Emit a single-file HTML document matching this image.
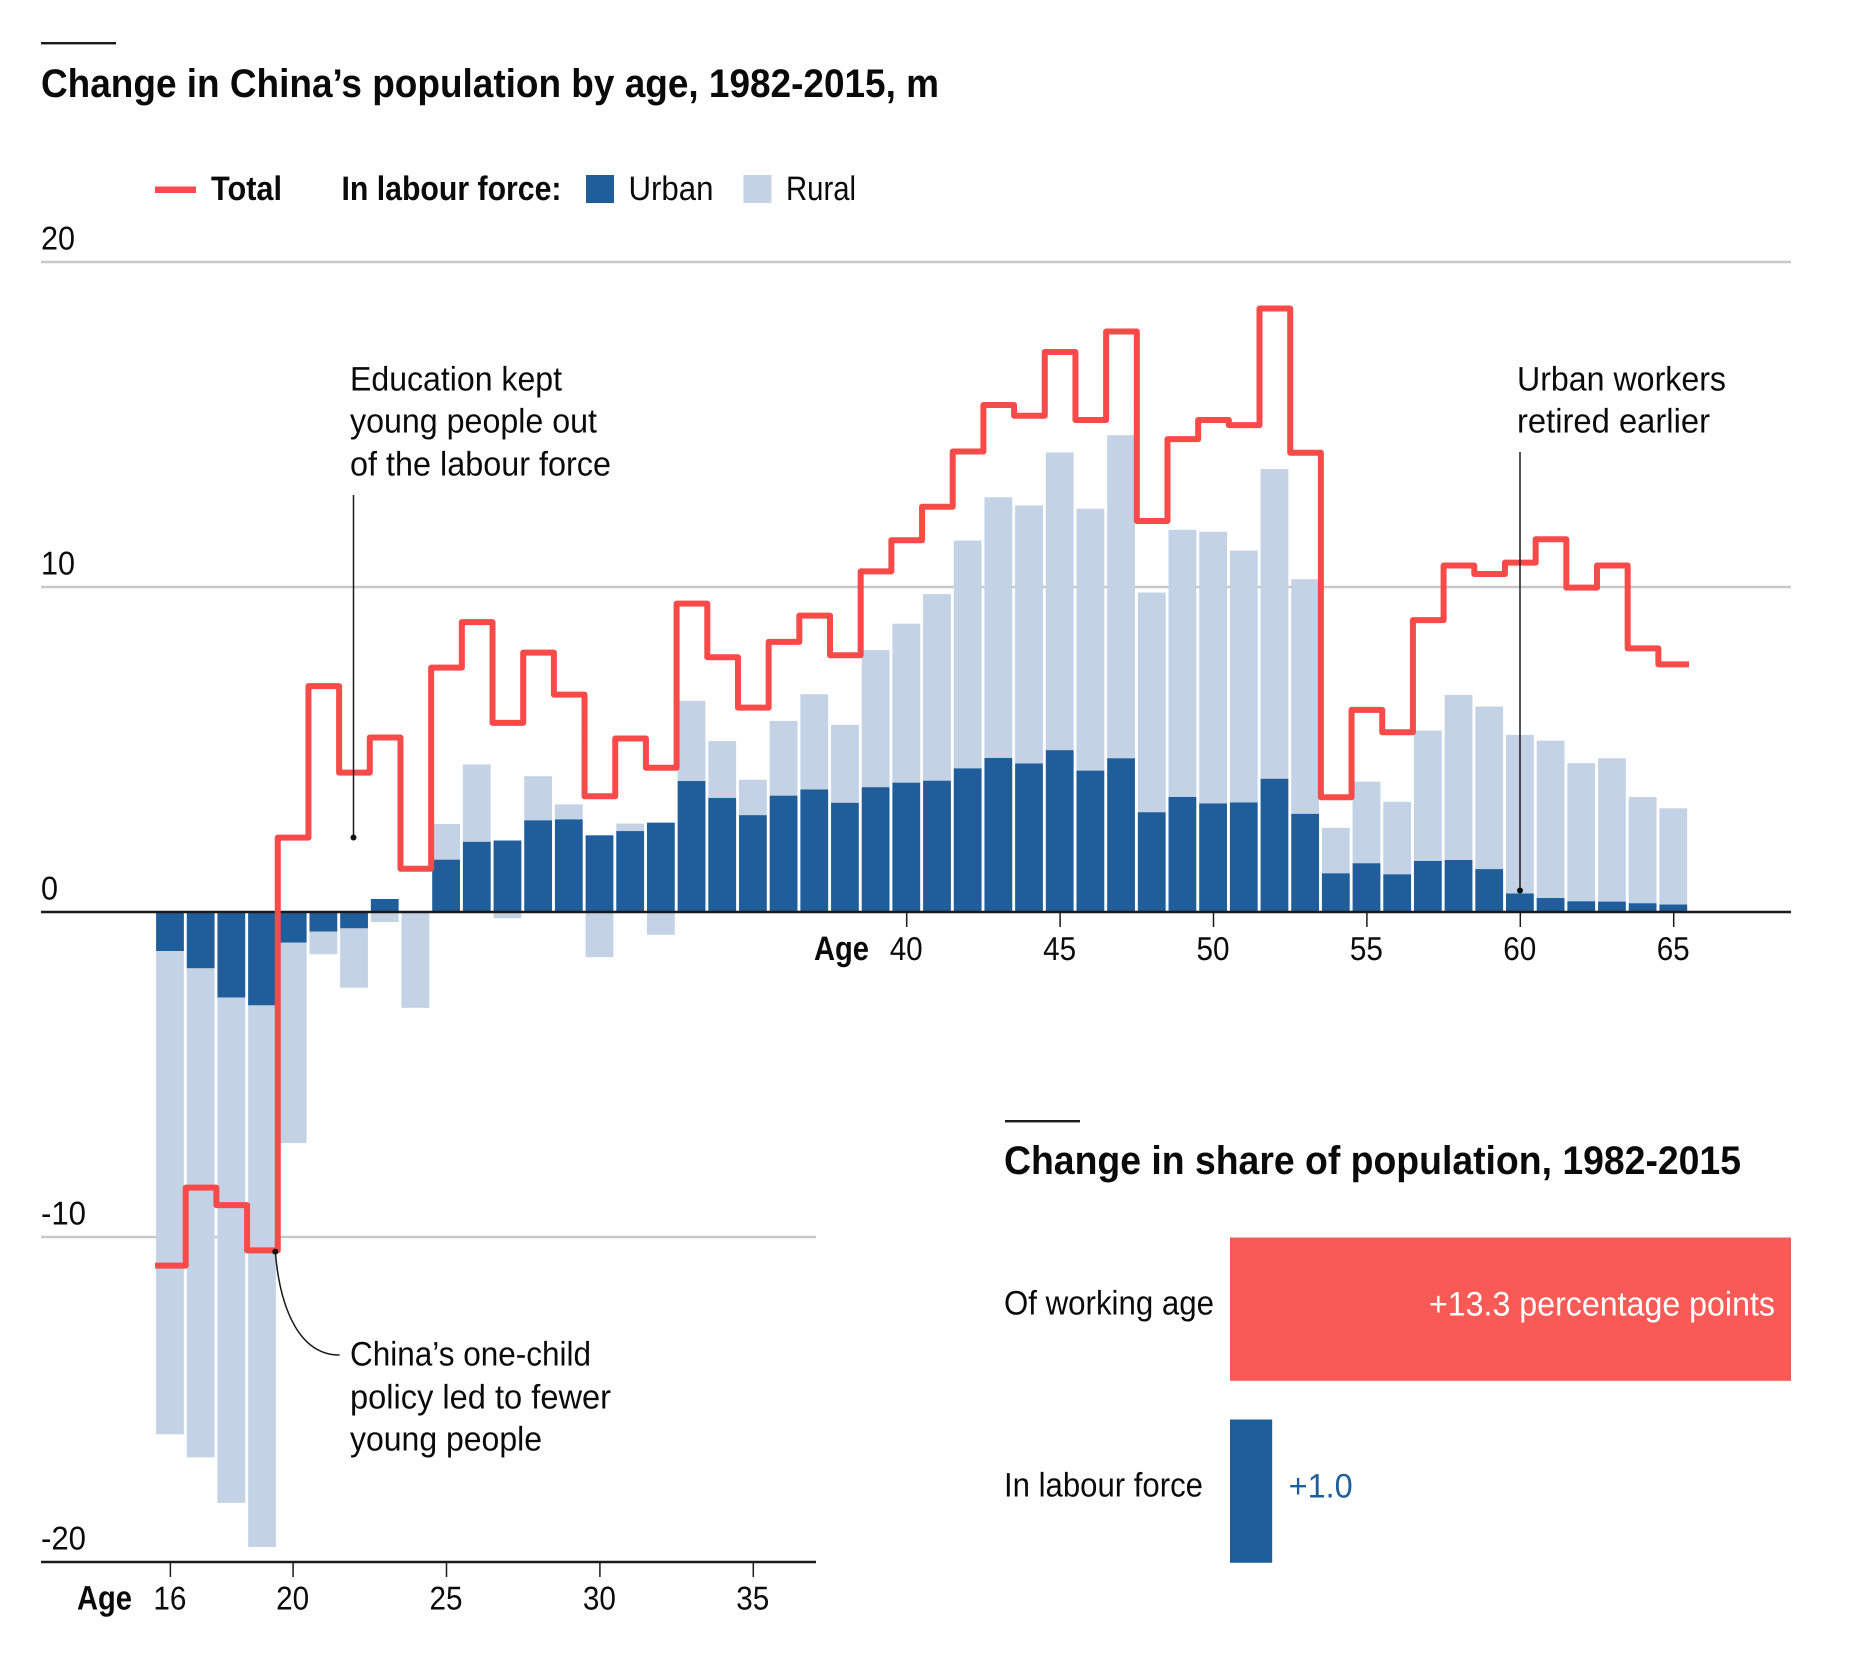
<!DOCTYPE html>
<html lang="en">
<head>
<meta charset="utf-8">
<title>Change in China's population by age, 1982-2015</title>
<style>
html,body{margin:0;padding:0;background:#fff;}
svg{display:block;}
text{font-family:"Liberation Sans",Arial,sans-serif;fill:#0a0a0a;text-rendering:geometricPrecision;}
.title{font-size:40px;font-weight:700;}
.body{font-size:34px;}
.bold{font-size:34px;font-weight:700;}
.tick{font-size:33px;}
</style>
</head>
<body>
<svg id="chart" xmlns="http://www.w3.org/2000/svg" width="1852" height="1672" viewBox="0 0 1852 1672">
  <rect x="0" y="0" width="1852" height="1672" fill="#ffffff"/>
  <rect x="41" y="42" width="75" height="2.4" fill="#1a1a1a"/>
  <text class="title" x="41" y="97" textLength="898" lengthAdjust="spacingAndGlyphs">Change in China’s population by age, 1982-2015, m</text>

  <g>
    <rect x="155" y="186.5" width="41" height="6.5" fill="#f94a4f"/>
    <text class="bold" x="211" y="200" textLength="71" lengthAdjust="spacingAndGlyphs">Total</text>
    <text class="bold" x="341.5" y="200" textLength="220" lengthAdjust="spacingAndGlyphs">In labour force:</text>
    <rect x="586" y="175" width="28" height="28" fill="#205e9b"/>
    <text class="body" x="628.5" y="200" textLength="85" lengthAdjust="spacingAndGlyphs">Urban</text>
    <rect x="743.5" y="175" width="28" height="28" fill="#c3d2e5"/>
    <text class="body" x="786" y="200" textLength="70" lengthAdjust="spacingAndGlyphs">Rural</text>
  </g>

  <g id="grid"></g>
  <g id="ruralBars"></g>
  <g id="urbanBars"></g>
  <g id="axes"></g>
  <path id="totalLine" fill="none" stroke="#f94a4a" stroke-width="6" stroke-linejoin="round"/>

  <g>
    <text class="body" x="350" y="390.5" textLength="212" lengthAdjust="spacingAndGlyphs">Education kept</text>
    <text class="body" x="350" y="432.5" textLength="247" lengthAdjust="spacingAndGlyphs">young people out</text>
    <text class="body" x="350" y="475.5" textLength="261" lengthAdjust="spacingAndGlyphs">of the labour force</text>
    <line x1="353.5" y1="495" x2="353.5" y2="837" stroke="#1a1a1a" stroke-width="1.5"/>
    <circle cx="353.5" cy="837.5" r="3" fill="#111"/>
  </g>
  <g>
    <text class="body" x="1517" y="390.5" textLength="209" lengthAdjust="spacingAndGlyphs">Urban workers</text>
    <text class="body" x="1517" y="432.5" textLength="193" lengthAdjust="spacingAndGlyphs">retired earlier</text>
    <line x1="1520" y1="452" x2="1520" y2="890" stroke="#1a1a1a" stroke-width="1.5"/>
    <circle cx="1520" cy="890.5" r="3" fill="#111"/>
  </g>
  <g>
    <text class="body" x="350" y="1365.5" textLength="241" lengthAdjust="spacingAndGlyphs">China’s one-child</text>
    <text class="body" x="350" y="1408.5" textLength="261" lengthAdjust="spacingAndGlyphs">policy led to fewer</text>
    <text class="body" x="350" y="1450.5" textLength="192" lengthAdjust="spacingAndGlyphs">young people</text>
    <path d="M275.3 1251.6C280 1310 300 1355 339.6 1355" fill="none" stroke="#1a1a1a" stroke-width="1.5"/>
    <circle cx="275.3" cy="1251.6" r="3" fill="#111"/>
  </g>

  <rect x="1005" y="1120" width="75" height="2.4" fill="#1a1a1a"/>
  <text class="title" x="1004" y="1174" textLength="737" lengthAdjust="spacingAndGlyphs">Change in share of population, 1982-2015</text>
  <g id="shareChart"></g>
</svg>

<script>
const ages = [16,17,18,19,20,21,22,23,24,25,26,27,28,29,30,31,32,33,34,35,36,37,38,39,40,41,42,43,44,45,46,47,48,49,50,51,52,53,54,55,56,57,58,59,60,61,62,63,64,65];
const urban = [-1.2,-1.73,-2.63,-2.87,-0.94,-0.6,-0.5,0.4,0,1.61,2.16,2.2,2.82,2.85,2.36,2.49,2.75,4.03,3.51,2.98,3.58,3.77,3.36,3.84,3.98,4.04,4.42,4.74,4.57,4.98,4.35,4.73,3.07,3.54,3.34,3.37,4.10,3.02,1.19,1.50,1.16,1.57,1.60,1.32,0.57,0.43,0.33,0.32,0.27,0.23];
const rural = [-14.87,-15.05,-15.55,-16.67,-6.17,-0.7,-1.83,-0.31,-2.95,1.10,2.38,-0.19,1.36,0.46,-1.39,0.23,-0.70,2.47,1.75,1.09,2.30,2.93,2.40,4.22,4.89,5.74,7.01,8.02,7.94,9.16,8.06,9.94,6.76,8.22,8.36,7.75,9.53,7.22,1.40,2.51,2.23,4.01,5.08,5.00,4.88,4.84,4.25,4.41,3.27,2.96];
const total = [-10.88,-8.48,-9.02,-10.41,2.29,6.95,4.29,5.37,1.33,7.52,8.92,5.82,7.98,6.69,3.56,5.34,4.44,9.49,7.84,6.29,8.31,9.12,7.9,10.48,11.44,12.47,14.17,15.6,15.27,17.23,15.14,17.86,12.03,14.55,15.14,14.98,18.57,14.13,3.53,6.22,5.53,8.98,10.66,10.4,10.75,11.47,9.98,10.66,8.11,7.62];
const yTicks = [20,10,0,-10,-20];
const yTickText = ["20","10","0","-10","-20"];
const upperAgeTicks = [40,45,50,55,60,65];
const lowerAgeTicks = [16,20,25,30,35];
const shareLabels = ["Of working age","In labour force"];
const shareValues = [13.3,1.0];
const sharePrinted = ["+13.3 percentage points","+1.0"];

const NS = "http://www.w3.org/2000/svg";
const xScale = a => 906.7 + 30.68 * (a - 40);
const yScale = v => 912 - 32.5 * v;
const shareScale = v => 1230 + 42.18 * v;
const BAR_W = 27.8;

function mk(tag, parent, attrs, txt) {
  const el = document.createElementNS(NS, tag);
  for (const k in attrs) el.setAttribute(k, attrs[k]);
  if (txt !== undefined) el.textContent = txt;
  parent.appendChild(el);
  return el;
}

const grid = document.getElementById("grid");
const axes = document.getElementById("axes");
const ruralG = document.getElementById("ruralBars");
const urbanG = document.getElementById("urbanBars");
const shareG = document.getElementById("shareChart");
const lineRight = 1791;
const lineRightLower = 816;

/* gridlines and y labels */
yTicks.forEach((v, i) => {
  const right = v < 0 ? lineRightLower : lineRight;
  const isAxis = v === 0 || v === -20;
  const line = mk("rect", isAxis ? axes : grid, {
    x: 41, y: yScale(v) - 1.25, width: right - 41, height: 2.5,
    fill: isAxis ? "#1a1a1a" : "#c9c9c9"
  });
  
  
  const label = mk("text", axes, {
    class: "tick", x: 41, y: yScale(v) - 12.5,
    textLength: yTickText[i].length === 3 ? 45 : (yTickText[i].length === 2 ? 34 : 17),
    lengthAdjust: "spacingAndGlyphs"
  }, yTickText[i]);
  
  
});

/* stacked bars */
ages.forEach((a, i) => {
  const u = urban[i], r = rural[i];
  const x = xScale(a) - BAR_W / 2 - 0.4;
  const base = r >= 0 ? Math.max(u, 0) : Math.min(u, 0);
  const end = base + r;
  const rb = mk("rect", ruralG, {
    x: x, y: yScale(Math.max(base, end)), width: BAR_W,
    height: Math.abs(yScale(base) - yScale(end)), fill: "#c3d2e5"
  });
  
  
  const ub = mk("rect", urbanG, {
    x: x, y: yScale(Math.max(u, 0)), width: BAR_W,
    height: Math.abs(yScale(u) - yScale(0)), fill: "#205e9b"
  });
  
  
});

/* total step line */
let d = "";
ages.forEach((a, i) => {
  const y = yScale(total[i]);
  d += (i === 0 ? "M" : "L") + xScale(a - 0.5) + " " + y + "L" + xScale(a + 0.5) + " " + y;
});
document.getElementById("totalLine").setAttribute("d", d);

/* age ticks */
upperAgeTicks.forEach(a => {
  const t = mk("line", axes, {x1: xScale(a), x2: xScale(a), y1: yScale(0), y2: yScale(0) + 15, stroke: "#1a1a1a", "stroke-width": 1.5});
  
  
  const l = mk("text", axes, {class: "tick", x: xScale(a) - 0.5, y: 960, "text-anchor": "middle", textLength: 33, lengthAdjust: "spacingAndGlyphs"}, String(a));
  
  
});
lowerAgeTicks.forEach(a => {
  const t = mk("line", axes, {x1: xScale(a), x2: xScale(a), y1: yScale(-20), y2: yScale(-20) + 15, stroke: "#1a1a1a", "stroke-width": 1.5});
  
  
  const l = mk("text", axes, {class: "tick", x: xScale(a) - 0.5, y: 1609.5, "text-anchor": "middle", textLength: 33, lengthAdjust: "spacingAndGlyphs"}, String(a));
  
  
});
const ageTop = mk("text", axes, {class: "bold", x: 814, y: 960, textLength: 55, lengthAdjust: "spacingAndGlyphs"}, "Age");


const ageBottom = mk("text", axes, {class: "bold", x: 77, y: 1609.5, textLength: 55, lengthAdjust: "spacingAndGlyphs"}, "Age");



/* share chart */
const shareRowTop = [1237.5, 1419.5];
const shareFill = ["#f95a55", "#205e9b"];
const shareCatW = [210, 199];
const shareValW = [346, 64];
shareValues.forEach((v, i) => {
  const y = shareRowTop[i];
  const b = mk("rect", shareG, {x: shareScale(0), y: y, width: shareScale(v) - shareScale(0), height: 143.3, fill: shareFill[i]});
  
  
  const c = mk("text", shareG, {class: "body", x: 1004, y: y + 77, textLength: shareCatW[i], lengthAdjust: "spacingAndGlyphs"}, shareLabels[i]);
  
  
  const inside = v > 5;
  const t = mk("text", shareG, {
    class: "body", y: y + 78,
    x: inside ? shareScale(v) - 16 : shareScale(v) + 16.5,
    "text-anchor": inside ? "end" : "start",
    textLength: shareValW[i], lengthAdjust: "spacingAndGlyphs",
    style: "fill:" + (inside ? "#ffffff" : "#205e9b")
  }, sharePrinted[i]);
  
  
});
</script>
</body>
</html>
